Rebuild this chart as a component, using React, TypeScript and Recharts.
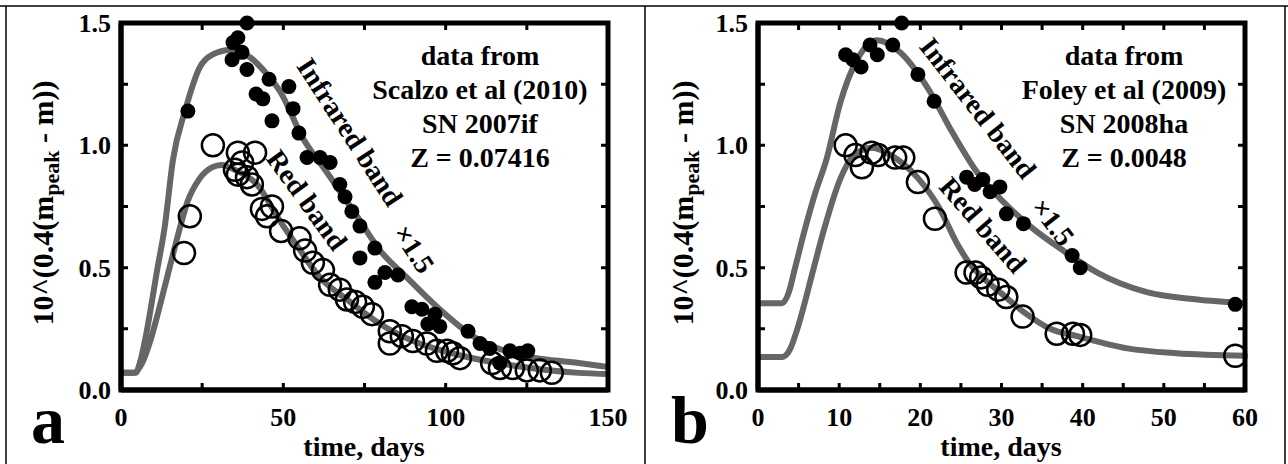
import { ComposedChart, Line, Scatter, XAxis, YAxis } from "recharts";

// panel a: SN 2007if (Scalzo et al 2010)
const irPointsA = [
  [20.6, 1.14], [34.2, 1.35], [34.5, 1.42], [36.0, 1.44], [37.3, 1.38], [38.8, 1.5], [38.8, 1.31],
  [41.6, 1.21], [43.7, 1.19], [45.6, 1.27], [46.5, 1.1], [51.7, 1.24], [53.0, 1.15], [54.8, 1.05],
  [57.3, 0.95], [61.3, 0.95], [64.4, 0.93], [67.4, 0.84], [69.0, 0.79], [71.1, 0.73], [73.6, 0.67],
  [73.6, 0.54], [78.2, 0.58], [78.2, 0.44], [81.3, 0.48], [85.3, 0.47], [89.6, 0.34], [92.7, 0.33],
  [94.5, 0.27], [96.7, 0.31], [98.2, 0.26], [106.9, 0.24], [110.6, 0.19], [113.6, 0.17], [116.7, 0.11],
  [119.8, 0.16], [122.9, 0.15], [125.3, 0.16],
];
const redPointsA = [
  [19.4, 0.56], [21.2, 0.71], [28.3, 1.0], [35.1, 0.9], [36.0, 0.97], [36.0, 0.88], [37.3, 0.93],
  [38.8, 0.87], [40.3, 0.84], [41.3, 0.97], [43.4, 0.74], [45.0, 0.71], [46.5, 0.75], [49.3, 0.65],
  [55.0, 0.62], [56.7, 0.57], [59.1, 0.52], [62.2, 0.49], [64.4, 0.43], [67.4, 0.41], [69.6, 0.37],
  [72.1, 0.36], [74.5, 0.34], [77.3, 0.31], [82.8, 0.24], [82.8, 0.19], [86.5, 0.22], [89.9, 0.2],
  [94.2, 0.19], [97.3, 0.16], [100.4, 0.16], [102.2, 0.15], [104.4, 0.13], [114.3, 0.11], [116.7, 0.09],
  [120.7, 0.09], [125.0, 0.08], [129.0, 0.08], [132.7, 0.07],
];
const irCurveA = [
  [0, 0.07], [4.5, 0.07], [6, 0.12], [7.5, 0.21], [9, 0.32], [11, 0.48], [13.5, 0.67], [16, 0.94],
  [19.7, 1.14], [24.3, 1.32], [28, 1.37], [33.6, 1.39], [39.7, 1.36], [45, 1.29], [49, 1.22], [56, 1.03],
  [63.4, 0.89], [72.7, 0.71], [79.8, 0.57], [88, 0.46], [97.3, 0.34], [108.4, 0.22], [120.7, 0.15],
  [141, 0.11], [150, 0.094],
];
const redCurveA = [
  [0, 0.07], [4, 0.07], [6.5, 0.11], [9, 0.2], [11.5, 0.32], [14, 0.45], [16.5, 0.58], [18.5, 0.68],
  [20.5, 0.77], [24, 0.86], [28, 0.91], [31, 0.92], [35, 0.9], [41.9, 0.84], [49, 0.69], [54.2, 0.59],
  [61.3, 0.46], [69.6, 0.37], [79.8, 0.27], [90, 0.2], [105, 0.14], [120.7, 0.1], [141, 0.07], [150, 0.065],
];

// panel b: SN 2008ha (Foley et al 2009)
const irPointsB = [
  [10.8, 1.37], [11.7, 1.35], [12.7, 1.32], [13.8, 1.41], [14.7, 1.37], [16.6, 1.41], [17.7, 1.5],
  [19.7, 1.29], [21.7, 1.18], [25.7, 0.87], [26.7, 0.84], [27.7, 0.86], [28.6, 0.81], [29.8, 0.83],
  [30.6, 0.72], [32.7, 0.68], [38.7, 0.55], [39.7, 0.5], [58.8, 0.35],
];
const redPointsB = [
  [10.8, 1.0], [12.0, 0.96], [12.8, 0.91], [14.0, 0.97], [14.8, 0.96], [16.9, 0.95], [17.9, 0.95],
  [19.7, 0.85], [21.8, 0.7], [25.7, 0.48], [26.8, 0.48], [27.5, 0.46], [28.3, 0.43], [29.6, 0.41],
  [30.6, 0.38], [32.6, 0.3], [36.8, 0.23], [38.8, 0.23], [39.7, 0.225], [58.8, 0.14],
];
const irCurveB = [
  [0, 0.355], [3, 0.355], [3.8, 0.4], [4.5, 0.49], [5.8, 0.66], [7, 0.8], [8.5, 0.95], [10.1, 1.17],
  [12.2, 1.35], [14.7, 1.43], [17.5, 1.38], [20.8, 1.24], [24, 1.05], [27, 0.89], [30.2, 0.77],
  [33.5, 0.67], [37.6, 0.57], [41.8, 0.48], [47.9, 0.4], [54.1, 0.37], [60, 0.355],
];
const redCurveB = [
  [0, 0.135], [3, 0.135], [4, 0.17], [4.8, 0.245], [6.8, 0.49], [8, 0.64], [10.1, 0.86], [11.7, 0.955],
  [14, 0.99], [16.6, 0.955], [19.6, 0.87], [22.4, 0.74], [24.5, 0.6], [26, 0.52], [28, 0.45], [29.8, 0.4],
  [33.1, 0.31], [36, 0.25], [39.3, 0.22], [45.5, 0.17], [51.6, 0.15], [60, 0.14],
];

const xLabelsA = [0, 50, 100, 150];
const xMinorA = [25, 50, 75, 100, 125];
const xLabelsB = [0, 10, 20, 30, 40, 50, 60];
const xMinorB = [5, 10, 15, 20, 25, 30, 35, 40, 45, 50, 55];
const yLabels = [0, 0.5, 1, 1.5];
const yMinor = [0.25, 0.5, 0.75, 1, 1.25];

const infoA = ["data from", "Scalzo et al (2010)", "SN 2007if", "Z = 0.07416"];
const infoB = ["data from", "Foley et al (2009)", "SN 2008ha", "Z = 0.0048"];

const FONT = '"Liberation Serif", "Times New Roman", serif';
const GREY = "#666666";
const TICK = 7;
const PLOT_TOP = 23;
const PLOT_BOTTOM = 390;
const Y_AXIS_W = 60;

const toPts = (arr: number[][]) => arr.map(([t, v]) => ({ t, v }));

const Dot = (p: any) => <circle cx={p.cx} cy={p.cy} r={7.5} fill="#000" />;
const Ring = (p: any) => <circle cx={p.cx} cy={p.cy} r={11} fill="none" stroke="#000" strokeWidth={2.5} />;

interface PanelProps {
  xMax: number;
  xLabels: number[];
  irPts: number[][];
  redPts: number[][];
  irCurve: number[][];
  redCurve: number[][];
  left: number;
  right: number;
}

const Panel = ({ xMax, xLabels, irPts, redPts, irCurve, redCurve, left, right }: PanelProps) => (
  <ComposedChart
    width={640}
    height={464}
    margin={{ top: PLOT_TOP, right, left: left - Y_AXIS_W, bottom: 464 - PLOT_BOTTOM - 30 }}
  >
    <XAxis
      type="number"
      dataKey="t"
      domain={[0, xMax]}
      ticks={xLabels}
      axisLine={{ stroke: "#000", strokeWidth: 5 }}
      tickLine={false}
      tickSize={0}
      tickMargin={0}
      height={30}
      interval={0}
      tick={(p: any) => (
        <text x={p.x} y={p.y + 36} textAnchor="middle" fontFamily={FONT} fontWeight="bold" fontSize={26} fill="#000">
          {p.payload.value}
        </text>
      )}
    />
    <YAxis
      type="number"
      dataKey="v"
      domain={[0, 1.5]}
      ticks={yLabels}
      axisLine={{ stroke: "#000", strokeWidth: 5 }}
      tickLine={false}
      tickSize={0}
      tickMargin={0}
      width={Y_AXIS_W}
      interval={0}
      tick={(p: any) => (
        <text x={p.x - 10} y={p.y + 9} textAnchor="end" fontFamily={FONT} fontWeight="bold" fontSize={26} fill="#000">
          {Number(p.payload.value).toFixed(1)}
        </text>
      )}
    />
    <Line data={toPts(irCurve)} dataKey="v" type="monotone" stroke={GREY} strokeWidth={6} dot={false} isAnimationActive={false} />
    <Line data={toPts(redCurve)} dataKey="v" type="monotone" stroke={GREY} strokeWidth={6} dot={false} isAnimationActive={false} />
    <Scatter data={toPts(irPts)} dataKey="v" shape={Dot} isAnimationActive={false} />
    <Scatter data={toPts(redPts)} dataKey="v" shape={Ring} isAnimationActive={false} />
  </ComposedChart>
);

// plot frame outline and short inward ticks on all four sides
const framePath = (x0: number, x1: number) =>
  `M${x0},${PLOT_TOP}H${x1}V${PLOT_BOTTOM}H${x0}Z`;

const tickPath = (x0: number, x1: number, xMax: number, xMinor: number[]) => {
  const px = (t: number) => x0 + (t / xMax) * (x1 - x0);
  const py = (v: number) => PLOT_BOTTOM - (v / 1.5) * (PLOT_BOTTOM - PLOT_TOP);
  let d = "";
  xMinor.forEach((t) => {
    d += `M${px(t)},${PLOT_BOTTOM}V${PLOT_BOTTOM - TICK}M${px(t)},${PLOT_TOP}V${PLOT_TOP + TICK}`;
  });
  yMinor.forEach((v) => {
    d += `M${x0},${py(v)}H${x0 + TICK}M${x1},${py(v)}H${x1 - TICK}`;
  });
  return d;
};

const YTitle = ({ x, y }: { x: number; y: number }) => (
  <text x={x} y={y} transform={`rotate(-90 ${x} ${y})`} textAnchor="middle" fontFamily={FONT} fontWeight="bold" fontSize={30}>
    10^(0.4(m
    <tspan dy={6} fontSize={22}>peak</tspan>
    <tspan dy={-6}> - m))</tspan>
  </text>
);

const Info = ({ cx, lines }: { cx: number; lines: string[] }) => (
  <text textAnchor="middle" fontFamily={FONT} fontWeight="bold" fontSize={28}>
    {lines.map((s, i) => (
      <tspan key={i} x={cx} y={65 + i * 34}>
        {s}
      </tspan>
    ))}
  </text>
);

const Rot = ({ x, y, a, children }: { x: number; y: number; a: number; children: any }) => (
  <text x={x} y={y} transform={`rotate(${a} ${x} ${y})`} textAnchor="middle" dominantBaseline="central" fontFamily={FONT} fontWeight="bold" fontSize={28}>
    {children}
  </text>
);

export default function App() {
  return (
    <div style={{ position: "absolute", left: 0, top: 0, width: 1288, height: 464, background: "#fff", overflow: "hidden" }}>
      <div style={{ position: "absolute", left: 0, top: 0 }}>
        <Panel
          xMax={150}
          xLabels={xLabelsA}
          irPts={irPointsA}
          redPts={redPointsA}
          irCurve={irCurveA}
          redCurve={redCurveA}
          left={121}
          right={32}
        />
      </div>
      <div style={{ position: "absolute", left: 640, top: 0 }}>
        <Panel
          xMax={60}
          xLabels={xLabelsB}
          irPts={irPointsB}
          redPts={redPointsB}
          irCurve={irCurveB}
          redCurve={redCurveB}
          left={118}
          right={35}
        />
      </div>
      <svg width={1288} height={464} style={{ position: "absolute", left: 0, top: 0, pointerEvents: "none" }}>
        <path d="M0,6H1288M6,6V464M645,6V464M1285,6V464" stroke="#000" strokeWidth={1.5} fill="none" />
        <path d={framePath(121, 608)} stroke="#000" strokeWidth={5} fill="none" />
        <path d={framePath(758, 1245)} stroke="#000" strokeWidth={5} fill="none" />
        <path d={tickPath(121, 608, 150, xMinorA)} stroke="#000" strokeWidth={3} fill="none" />
        <path d={tickPath(758, 1245, 60, xMinorB)} stroke="#000" strokeWidth={3} fill="none" />

        <YTitle x={53} y={203} />
        <YTitle x={693} y={203} />

        <text x={364} y={456} textAnchor="middle" fontFamily={FONT} fontWeight="bold" fontSize={28}>time, days</text>
        <text x={1001} y={456} textAnchor="middle" fontFamily={FONT} fontWeight="bold" fontSize={28}>time, days</text>

        <text x={48} y={443} textAnchor="middle" fontFamily={FONT} fontWeight="bold" fontSize={68}>a</text>
        <text x={690} y={443} textAnchor="middle" fontFamily={FONT} fontWeight="bold" fontSize={68}>b</text>

        <Info cx={480} lines={infoA} />
        <Info cx={1124} lines={infoB} />

        <Rot x={350} y={132} a={57}>Infrared band</Rot>
        <Rot x={414} y={249} a={57}>×1.5</Rot>
        <Rot x={307} y={200} a={54}>Red band</Rot>

        <Rot x={978} y={108} a={52}>Infrared band</Rot>
        <Rot x={1053} y={222} a={52}>×1.5</Rot>
        <Rot x={983} y={225} a={49}>Red band</Rot>
      </svg>
    </div>
  );
}
